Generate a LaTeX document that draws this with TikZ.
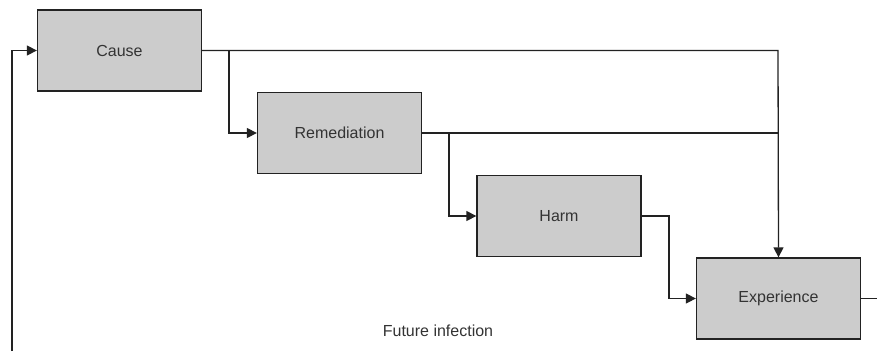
\documentclass[tikz,border=0pt]{standalone}
\usepackage{fontspec}
\setmainfont{Liberation Sans}
\usetikzlibrary{arrows.meta}
\definecolor{boxfill}{HTML}{CCCCCC}
\definecolor{ink}{HTML}{222222}
\definecolor{label}{HTML}{333333}
\begin{document}
\begin{tikzpicture}[x=1pt,y=-1pt,
  stagebox/.style={draw=ink, fill=boxfill, line width=1.3pt, minimum width=164pt, minimum height=81pt,
    inner sep=0pt, font=\fontsize{16}{18}\selectfont, text=label},
  flow/.style={draw=ink, line width=1.3pt},
  arr/.style={flow, -{Triangle[length=10pt,width=10pt]}}]
\useasboundingbox (0,0) rectangle (877,351);
\node[stagebox] (cause) at (119.5,50.5) {Cause};
\node[stagebox] (rem) at (339.5,133) {Remediation};
\node[stagebox] (harm) at (559,216) {Harm};
\node[stagebox] (exp) at (778.5,298.5) {Experience};
\node[font=\fontsize{16}{18}\selectfont, text=label] (fut) at (438,331) {Future infection};
\coordinate (outR) at (877,298.5);
\coordinate (inB) at (12,351);
% main line from Cause to Experience
\draw[arr] (cause.east) -- (778,50.5) -- (exp.north);
\draw[arr] (229,50.5) |- (rem.west);
\draw[flow] (rem.east) -- (778,133);
\draw[arr] (449,133) |- (harm.west);
\draw[arr] (harm.east) -- (669,216) |- (exp.west);
\draw[flow] (exp.east) -- (outR);
\draw[arr] (inB) |- (cause.west);
\end{tikzpicture}
\end{document}
